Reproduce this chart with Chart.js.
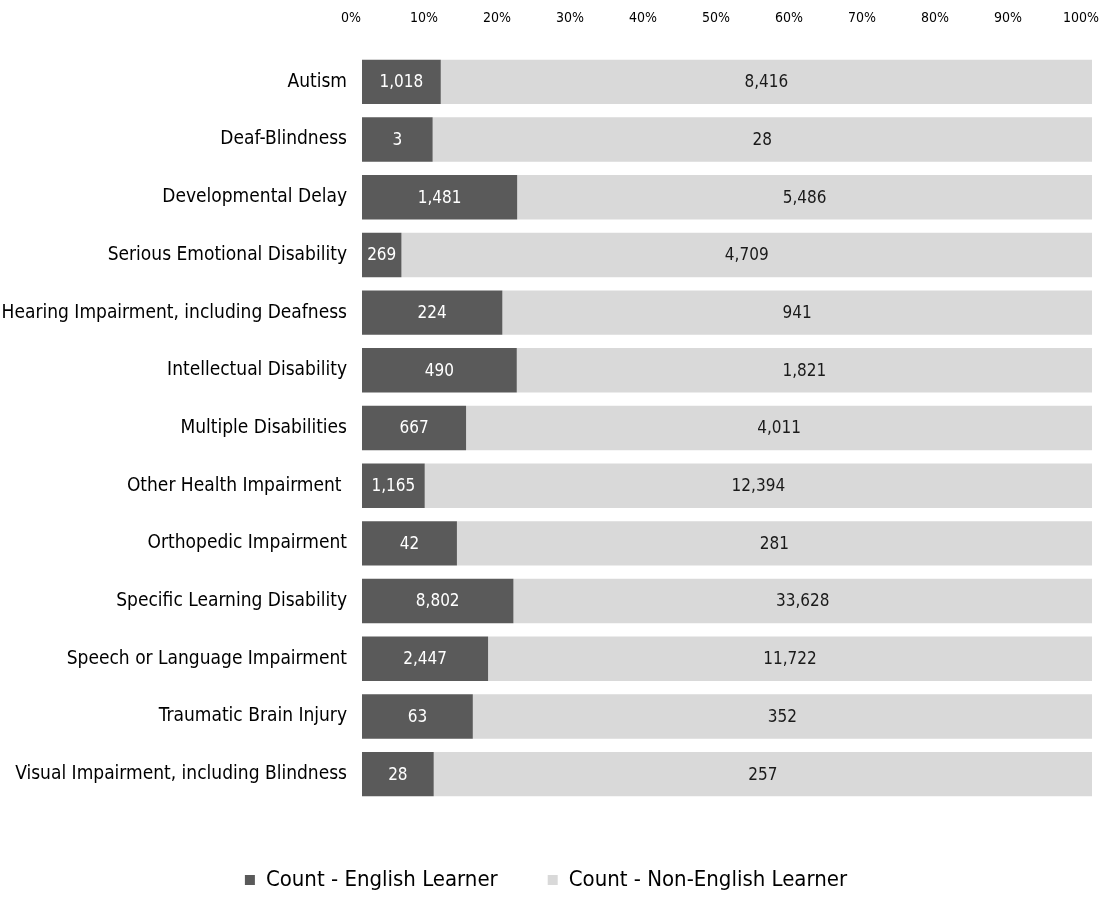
<!DOCTYPE html>
<html>
<head>
<meta charset="utf-8">
<script src="https://cdn.jsdelivr.net/npm/chart.js@4"></script>
<style>
  html, body { margin: 0; padding: 0; background: #fff; }
  #wrap { width: 1115px; height: 921px; }
</style>
</head>
<body>
<div id="wrap"><canvas id="myBarChart"></canvas></div>
<script>
const categories = [
  "Autism", "Deaf-Blindness", "Developmental Delay", "Serious Emotional Disability",
  "Hearing Impairment, including Deafness", "Intellectual Disability", "Multiple Disabilities",
  "Other Health Impairment ", "Orthopedic Impairment", "Specific Learning Disability",
  "Speech or Language Impairment", "Traumatic Brain Injury", "Visual Impairment, including Blindness"
];
const englishLearner = [1018, 3, 1481, 269, 224, 490, 667, 1165, 42, 8802, 2447, 63, 28];
const nonEnglishLearner = [8416, 28, 5486, 4709, 941, 1821, 4011, 12394, 281, 33628, 11722, 352, 257];
const tickLabels = ["0%", "10%", "20%", "30%", "40%", "50%", "60%", "70%", "80%", "90%", "100%"];

const fontName = "'DejaVu Sans Condensed', 'DejaVu Sans', sans-serif";
const totals = englishLearner.map((v, i) => v + nonEnglishLearner[i]);
const toPct = arr => arr.map((v, i) => v / totals[i] * 100);

// draws the count in the middle of each segment
const countLabels = {
  id: 'countLabels',
  afterDatasetsDraw(chart) {
    const ctx = chart.ctx;
    ctx.save();
    ctx.font = '17px ' + fontName;
    ctx.textAlign = 'center';
    ctx.textBaseline = 'middle';
    chart.data.datasets.forEach((ds, di) => {
      chart.getDatasetMeta(di).data.forEach((bar, i) => {
        const p = bar.getProps(['x', 'y', 'base'], true);
        ctx.fillStyle = di === 0 ? '#ffffff' : '#1a1a1a';
        ctx.fillText(ds.counts[i].toLocaleString('en-US'), (p.x + p.base) / 2, p.y + 1);
      });
    });
    ctx.restore();
  }
};

const ctx = document.getElementById('myBarChart').getContext('2d');
new Chart(ctx, {
  type: 'bar',
  data: {
    labels: categories,
    datasets: [{
      label: 'Count - English Learner',
      data: toPct(englishLearner),
      counts: englishLearner,
      backgroundColor: '#5a5a5a',
      barPercentage: 0.77,
      categoryPercentage: 1
    }, {
      label: 'Count - Non-English Learner',
      data: toPct(nonEnglishLearner),
      counts: nonEnglishLearner,
      backgroundColor: '#d9d9d9',
      barPercentage: 0.77,
      categoryPercentage: 1
    }]
  },
  options: {
    indexAxis: 'y',
    responsive: true,
    maintainAspectRatio: false,
    animation: false,
    layout: { padding: { top: 8, right: 23, bottom: 20, left: 0 } },
    scales: {
      x: {
        position: 'top',
        stacked: true,
        min: 0,
        max: 100,
        grid: { display: false },
        border: { display: false },
        afterFit: (scale) => {
          scale.height = 45;
          scale.paddingLeft = 0;
          scale.paddingRight = 0;
        },
        ticks: {
          stepSize: 10,
          color: '#000',
          padding: 18,
          labelOffset: -11,
          font: { family: fontName, size: 14 },
          callback: (v) => tickLabels[Math.round(v / 10)]
        }
      },
      y: {
        stacked: true,
        grid: { display: false },
        border: { display: false },
        afterFit: (scale) => { scale.width = 362; },
        ticks: {
          color: '#000',
          padding: 7,
          font: { family: fontName, size: 19 }
        }
      }
    },
    plugins: {
      legend: {
        position: 'bottom',
        title: { display: true, text: ' ', padding: 0, font: { size: 10, lineHeight: 1.6 } },
        labels: {
          boxWidth: 10,
          boxHeight: 10,
          padding: 50,
          color: '#000',
          font: { family: fontName, size: 22 }
        }
      },
      tooltip: { enabled: false }
    }
  },
  plugins: [countLabels]
});
</script>
</body>
</html>
